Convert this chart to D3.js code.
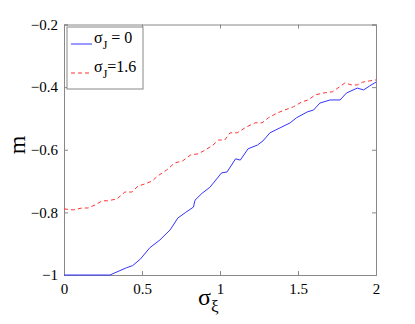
<!DOCTYPE html>
<html>
<head>
<meta charset="utf-8">
<script src="https://d3js.org/d3.v7.min.js"></script>
<style>
  body { margin: 0; background: #fff; }
  svg text { font-family: 'Liberation Serif', 'Times New Roman', serif; fill: #000; }
</style>
</head>
<body>
<script>
// sigma_xi values and m for sigma_J = 0 (solid blue)
var blueX = [0, 0.1, 0.2, 0.28, 0.295, 0.34, 0.40, 0.44, 0.49, 0.55, 0.615, 0.68, 0.73, 0.78, 0.83, 0.84,
  0.885, 0.935, 1.01, 1.045, 1.10, 1.13, 1.18, 1.24, 1.275, 1.32, 1.385, 1.45, 1.49, 1.56, 1.60,
  1.64, 1.705, 1.77, 1.81, 1.88, 1.92, 1.96, 2.0];
var blueY = [-1, -1, -1, -1, -1, -0.990, -0.977, -0.97, -0.949, -0.913, -0.888, -0.856, -0.818, -0.800, -0.783, -0.761,
  -0.739, -0.720, -0.674, -0.671, -0.629, -0.633, -0.597, -0.585, -0.572, -0.546, -0.530, -0.514, -0.498, -0.479, -0.473,
  -0.451, -0.441, -0.441, -0.419, -0.403, -0.409, -0.396, -0.384];

// m for sigma_J = 1.6 (dashed red)
var redX = [0, 0.06, 0.115, 0.155, 0.20, 0.245, 0.28, 0.34, 0.39, 0.435, 0.475, 0.52, 0.565, 0.60, 0.66,
  0.71, 0.76, 0.81, 0.86, 0.905, 0.955, 0.99, 1.03, 1.065, 1.11, 1.17, 1.225, 1.27, 1.31, 1.365,
  1.415, 1.47, 1.525, 1.565, 1.61, 1.66, 1.72, 1.755, 1.80, 1.845, 1.88, 1.915, 1.96, 2.0];
var redY = [-0.789, -0.792, -0.786, -0.786, -0.776, -0.763, -0.763, -0.757, -0.735, -0.735, -0.716, -0.709, -0.700, -0.684, -0.664,
  -0.642, -0.636, -0.617, -0.613, -0.601, -0.585, -0.569, -0.569, -0.546, -0.546, -0.527, -0.514, -0.514, -0.498, -0.483,
  -0.473, -0.463, -0.447, -0.441, -0.425, -0.419, -0.415, -0.403, -0.387, -0.393, -0.393, -0.384, -0.380, -0.377];

var xTicks = [0, 0.5, 1, 1.5, 2];
var yTicks = [-1, -0.8, -0.6, -0.4, -0.2];

var serif = "'Liberation Serif', 'Times New Roman', serif";

var margin = {left: 64, right: 39, top: 24.5, bottom: 49},
    width = 415, height = 324;

var svg = d3.select("body").append("svg")
  .attr("width", width).attr("height", height);

var x = d3.scaleLinear().domain([0, 2]).range([margin.left, width - margin.right]);
var y = d3.scaleLinear().domain([-1, -0.2]).range([height - margin.bottom, margin.top]);

var fmt = function(d) { return d === 0 ? "0" : String(d).replace("-", "\u2212"); };

// axes with inward ticks, box on all four sides
svg.append("g").attr("transform", "translate(0," + y(-1) + ")")
  .call(d3.axisBottom(x).tickValues(xTicks).tickSize(-4).tickPadding(8).tickFormat(fmt));
svg.append("g").attr("transform", "translate(" + x(0) + ",0)")
  .call(d3.axisLeft(y).tickValues(yTicks).tickSize(-4).tickPadding(6).tickFormat(fmt));
svg.append("g").attr("transform", "translate(0," + y(-0.2) + ")")
  .call(d3.axisTop(x).tickValues(xTicks).tickSize(-4).tickFormat(""));
svg.append("g").attr("transform", "translate(" + x(2) + ",0)")
  .call(d3.axisRight(y).tickValues(yTicks).tickSize(-4).tickFormat(""));

svg.selectAll("g").attr("font-family", serif);
svg.selectAll(".domain, .tick line").attr("stroke", "#888").attr("stroke-width", 1);
svg.selectAll(".tick text").attr("font-size", 15).style("font-size", "15px").attr("fill", "#000");

var line = d3.line().x(function(d) { return x(d[0]); }).y(function(d) { return y(d[1]); });

svg.append("path")
  .datum(d3.zip(blueX, blueY))
  .attr("d", line).attr("fill", "none").attr("stroke", "#3333ff").attr("stroke-width", 1);

svg.append("path")
  .datum(d3.zip(redX, redY))
  .attr("d", line).attr("fill", "none").attr("stroke", "#ff3333").attr("stroke-width", 1)
  .attr("stroke-dasharray", "4,3");

// axis labels
svg.append("text")
  .attr("transform", "translate(25,145) rotate(-90)")
  .attr("text-anchor", "middle").style("font-size", "24px").text("m");

var xl = svg.append("text").attr("x", 198).attr("y", 305).style("font-size", "24px");
xl.append("tspan").text("\u03c3");
xl.append("tspan").attr("dy", 7).style("font-size", "17px").text("\u03be");

// legend
var lg = svg.append("g").attr("transform", "translate(67,27)");
lg.append("rect").attr("width", 76).attr("height", 62)
  .attr("fill", "#fff").attr("stroke", "#888");

var items = [
  {label: " = 0", color: "#3333ff", dash: null, yy: 17},
  {label: "=1.6", color: "#ff3333", dash: "4,3", yy: 46}
];
items.forEach(function(it) {
  lg.append("line").attr("x1", 4).attr("x2", 25).attr("y1", it.yy).attr("y2", it.yy)
    .attr("stroke", it.color).attr("stroke-width", 1).attr("stroke-dasharray", it.dash);
  var t = lg.append("text").attr("x", 27).attr("y", it.yy - 1).style("font-size", "16px");
  t.append("tspan").text("\u03c3");
  t.append("tspan").attr("dy", 6).style("font-size", "12px").text("J");
  t.append("tspan").attr("dy", -6).text(it.label);
});
</script>
</body>
</html>
